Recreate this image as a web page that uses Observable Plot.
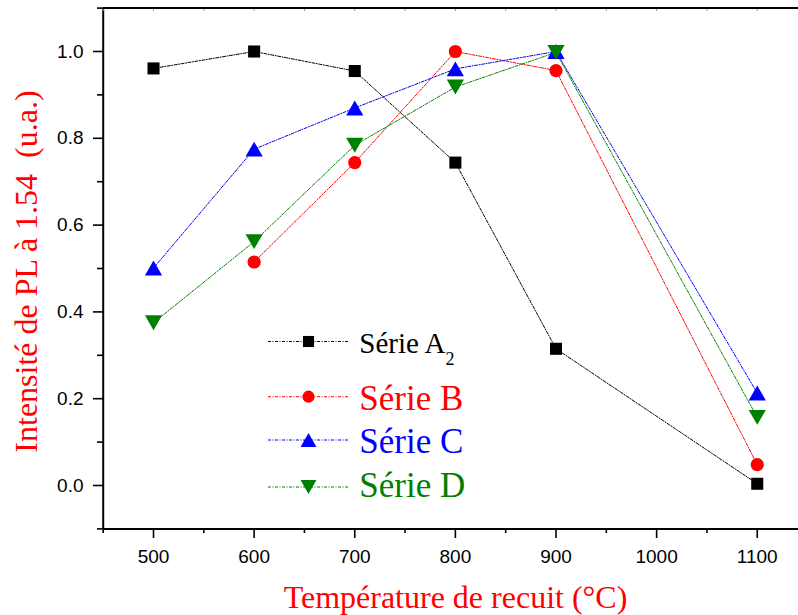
<!DOCTYPE html>
<html>
<head>
<meta charset="utf-8">
<script src="https://cdn.jsdelivr.net/npm/d3@7"></script>
<script src="https://cdn.jsdelivr.net/npm/@observablehq/plot@0.6"></script>
<style>
  html, body { margin: 0; padding: 0; background: #fff; overflow: hidden; }
  #chart svg { display: block; }
</style>
</head>
<body>
<div id="chart"></div>
<script>
// ---- data ----
const temps = [500, 600, 700, 800, 900, 1100];
const serieA = [0.961, 1.0, 0.955, 0.744, 0.315, 0.004];
const serieB = [null, 0.515, 0.744, 1.0, 0.956, 0.048];
const serieC = [0.501, 0.775, 0.870, 0.960, 1.0, 0.213];
const serieD = [0.375, 0.562, 0.784, 0.918, 0.998, 0.157];
const seriesNames = ["Série A", "Série B", "Série C", "Série D"];
const seriesSub = ["2", "", "", ""];
const seriesColors = ["#000000", "#ff0000", "#0000ff", "#008000"];
const xMajor = [500, 600, 700, 800, 900, 1000, 1100];
const xMinor = [450, 550, 650, 750, 850, 950, 1050];
const yMajor = [0, 0.2, 0.4, 0.6, 0.8, 1.0];
const yMinor = [-0.1, 0.1, 0.3, 0.5, 0.7, 0.9, 1.1];
const xTitle = "Température de recuit (°C)";
const yTitle = "Intensité de PL à 1.54\u00a0\u00a0(u.a.)";

// custom bbox-centred triangles
const s3 = Math.sqrt(3);
function triSymbol(down) {
  return {
    draw(ctx, size) {
      const side = Math.sqrt(4 * size / s3);
      const h = side * s3 / 2;
      const d = down ? -1 : 1;
      ctx.moveTo(0, -d * h / 2);
      ctx.lineTo(-side / 2, d * h / 2);
      ctx.lineTo(side / 2, d * h / 2);
      ctx.closePath();
    }
  };
}
const symbols = [d3.symbolSquare, d3.symbolCircle, triSymbol(false), triSymbol(true)];
const radii = [6.8, 6.6, 6.4, 6.4];

const allSeries = [serieA, serieB, serieC, serieD];
const rows = [];
allSeries.forEach((vals, si) => {
  vals.forEach((v, i) => {
    if (v != null) rows.push({s: si, x: temps[i], y: v});
  });
});

const dash = "3 1.5 1 1.5";
const marks = [];
for (let si = 0; si < 4; si++) {
  const data = rows.filter(d => d.s === si);
  marks.push(Plot.line(data, {x: "x", y: "y", stroke: seriesColors[si], strokeWidth: 1, strokeDasharray: dash}));
}
for (let si = 0; si < 4; si++) {
  const data = rows.filter(d => d.s === si);
  marks.push(Plot.dot(data, {x: "x", y: "y", fill: seriesColors[si], stroke: "none", symbol: symbols[si], r: radii[si]}));
}

const chart = Plot.plot({
  width: 798,
  height: 615,
  marginLeft: 103,
  marginRight: 0,
  marginTop: 8,
  marginBottom: 87,
  style: {background: "#fff", fontFamily: "'Liberation Sans', Arial, sans-serif"},
  x: {domain: [450, 1141], range: [102.7, 798], axis: null, label: null},
  y: {domain: [-0.1, 1.1], range: [528.4, 7.6], axis: null, label: null},
  marks: [
    Plot.ruleY([-0.1], {stroke: "#000", strokeWidth: 2}),
    Plot.ruleY([1.1], {stroke: "#000", strokeWidth: 2}),
    Plot.ruleX([450], {stroke: "#000", strokeWidth: 2}),
    Plot.axisY({ticks: yMajor, tickSize: 10, tickPadding: 10, tickFormat: d => d.toFixed(1), fontSize: 19, strokeWidth: 1.6, label: null, color: "#000"}),
    Plot.axisY({ticks: yMinor, tickSize: 6, tickFormat: () => "", strokeWidth: 1.6, label: null}),
    Plot.axisX({ticks: xMajor, tickSize: 10, tickPadding: 11, tickFormat: d => String(d), fontSize: 19, strokeWidth: 1.6, label: null, color: "#000"}),
    Plot.axisX({ticks: xMinor, tickSize: 5, tickFormat: () => "", strokeWidth: 1.6, label: null}),
    Plot.axisX({ticks: xMajor.concat(xMinor), anchor: "top", tickSize: -2, tickFormat: () => "", stroke: "#999", strokeWidth: 1, label: null}),
    ...marks
  ]
});
document.getElementById("chart").appendChild(chart);

// titles and legend
const svg = d3.select(chart);
const serif = "'Liberation Serif', 'Times New Roman', serif";
svg.append("text")
  .attr("x", 455.5).attr("y", 608)
  .attr("text-anchor", "middle")
  .attr("font-family", serif).attr("font-size", 32)
  .attr("fill", "#ff0000")
  .text(xTitle);
svg.append("text")
  .attr("transform", "translate(37,271.5) rotate(-90)")
  .attr("text-anchor", "middle")
  .attr("font-family", serif).attr("font-size", 32)
  .attr("fill", "#ff0000")
  .text(yTitle);

const legendY = [341.5, 396.7, 440, 487];
const legendBase = [353.3, 410, 453.3, 496.7];
const legendSize = [29, 35, 35, 35];
const lg = svg.append("g");
seriesNames.forEach((name, i) => {
  const y = legendY[i];
  lg.append("line").attr("x1", 268).attr("x2", 349).attr("y1", y).attr("y2", y)
    .attr("stroke", seriesColors[i]).attr("stroke-width", 1).attr("stroke-dasharray", dash);
  lg.append("path")
    .attr("transform", `translate(308.5,${y})`)
    .attr("d", d3.symbol(symbols[i], Math.PI * radii[i] * radii[i] * 0.85)())
    .attr("fill", seriesColors[i]);
  const t = lg.append("text").attr("x", 359.3).attr("y", legendBase[i])
    .attr("text-anchor", "start")
    .attr("font-family", serif).attr("font-size", legendSize[i])
    .attr("fill", seriesColors[i]);
  t.append("tspan").text(name);
  if (seriesSub[i]) t.append("tspan").attr("font-size", 18).attr("dy", 12).text(seriesSub[i]);
});
</script>
</body>
</html>
